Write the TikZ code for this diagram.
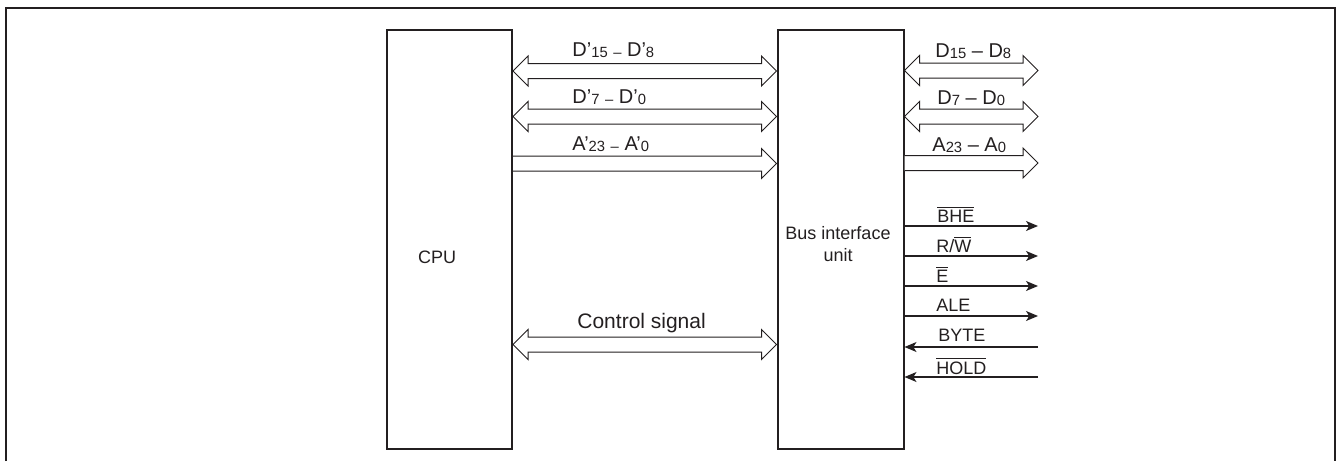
\documentclass[tikz,border=0pt]{standalone}
\usepackage{fontspec}
\setmainfont{Liberation Sans}
\usetikzlibrary{arrows.meta,calc}
\definecolor{ink}{HTML}{231F20}
\newcommand{\ovl}[1]{$\overline{\mbox{#1}}$}
\newcommand{\sub}[1]{\raisebox{-0.6pt}{\fontsize{7.4pt}{8pt}\selectfont #1}}
\tikzset{
  box/.style={draw=ink, line width=1pt, inner sep=0pt, anchor=north west},
  lbl/.style={text=ink, font=\fontsize{9pt}{10pt}\selectfont, inner sep=0pt, anchor=west},
  buslbl/.style={text=ink, font=\fontsize{10pt}{11pt}\selectfont, inner sep=0pt, anchor=west},
  biglbl/.style={text=ink, font=\fontsize{10.5pt}{12pt}\selectfont, inner sep=0pt, anchor=west},
  hollow/.style={draw=ink, line width=0.5pt, fill=white, line join=miter},
  sig/.style={draw=ink, line width=0.6pt, -{Stealth[length=6pt,width=5pt,inset=1.6pt]}},
}
% double hollow arrow between two named coordinates
\newcommand{\dblarrow}[2]{%
  \draw[hollow] (#1) -- ($(#1)+(15,-15)$) -- ($(#1)+(15,-7.5)$) -- ($(#2)+(-15,-7.5)$)
    -- ($(#2)+(-15,-15)$) -- (#2) -- ($(#2)+(-15,15)$) -- ($(#2)+(-15,7.5)$)
    -- ($(#1)+(15,7.5)$) -- ($(#1)+(15,15)$) -- cycle;}
% single hollow arrow (flat left end) between two named coordinates
\newcommand{\sglarrow}[2]{%
  \draw[hollow] ($(#1)+(0,-7.5)$) -- ($(#2)+(-15,-7.5)$) -- ($(#2)+(-15,-15)$) -- (#2)
    -- ($(#2)+(-15,15)$) -- ($(#2)+(-15,7.5)$) -- ($(#1)+(0,7.5)$);}
\begin{document}
\begin{tikzpicture}[x=0.5pt,y=-0.5pt]
\useasboundingbox (0,0) rectangle (1338,461);
% outer frame (open at the bottom)
\draw[ink, line width=1pt] (6,461) -- (6,8) -- (1335,8) -- (1335,461);
% blocks
\node[box, minimum width=62.5pt, minimum height=209.5pt] (cpu) at (386,29) {};
\node[box, minimum width=63pt, minimum height=209.5pt] (biu) at (776.5,29) {};
\node[text=ink, font=\fontsize{9pt}{10pt}\selectfont, inner sep=0pt] (cpulbl) at (437,257) {CPU};
\node[text=ink, font=\fontsize{9pt}{11pt}\selectfont, inner sep=0pt, align=center] (biulbl) at (838,244) {Bus interface\\unit};
% end points of the buses
\coordinate (ext) at (1038,0);
\coordinate (b1l) at (cpu.east |- 0,71);    \coordinate (b1r) at (biu.west |- 0,71);
\coordinate (b2l) at (cpu.east |- 0,116.5); \coordinate (b2r) at (biu.west |- 0,116.5);
\coordinate (b3l) at (cpu.east |- 0,163.5); \coordinate (b3r) at (biu.west |- 0,163.5);
\coordinate (b4l) at (cpu.east |- 0,344.5); \coordinate (b4r) at (biu.west |- 0,344.5);
\coordinate (e1l) at (biu.east |- 0,70.5);  \coordinate (e1r) at (ext |- 0,70.5);
\coordinate (e2l) at (biu.east |- 0,116.5); \coordinate (e2r) at (ext |- 0,116.5);
\coordinate (e3l) at (biu.east |- 0,163);   \coordinate (e3r) at (ext |- 0,163);
% hollow bus arrows
\dblarrow{b1l}{b1r}
\dblarrow{b2l}{b2r}
\sglarrow{b3l}{b3r}
\dblarrow{b4l}{b4r}
\dblarrow{e1l}{e1r}
\dblarrow{e2l}{e2r}
\sglarrow{e3l}{e3r}
% bus labels
\node[buslbl] (l1) at (572,50) {D'\sub{15} \sub{–} D'\sub{8}};
\node[buslbl] (l2) at (572,97) {D'\sub{7} \sub{–} D'\sub{0}};
\node[buslbl] (l3) at (572,144) {A'\sub{23} \sub{–} A'\sub{0}};
\node[biglbl] (l4) at (577,323) {Control signal};
\node[buslbl] (r1) at (935,51) {D\sub{15} – D\sub{8}};
\node[buslbl] (r2) at (937,98) {D\sub{7} – D\sub{0}};
\node[buslbl] (r3) at (932,145) {A\sub{23} – A\sub{0}};
% single control lines
\coordinate (o1) at (ext |- 0,226);
\coordinate (o2) at (ext |- 0,256);
\coordinate (o3) at (ext |- 0,286);
\coordinate (o4) at (ext |- 0,316);
\coordinate (i1) at (ext |- 0,347);
\coordinate (i2) at (ext |- 0,377);
\draw[sig] (biu.east |- o1) -- (o1);
\draw[sig] (biu.east |- o2) -- (o2);
\draw[sig] (biu.east |- o3) -- (o3);
\draw[sig] (biu.east |- o4) -- (o4);
\draw[sig] (i1) -- (biu.east |- i1);
\draw[sig] (i2) -- (biu.east |- i2);
\node[lbl] (s1) at (937,214) {\ovl{BHE}};
\node[lbl] (s2) at (936,244) {R/\ovl{W}};
\node[lbl] (s3) at (936,274) {\ovl{E}};
\node[lbl] (s4) at (936,305) {ALE};
\node[lbl] (s5) at (938,335) {BYTE};
\node[lbl] (s6) at (936,366) {\ovl{HOLD}};
\end{tikzpicture}
\end{document}
